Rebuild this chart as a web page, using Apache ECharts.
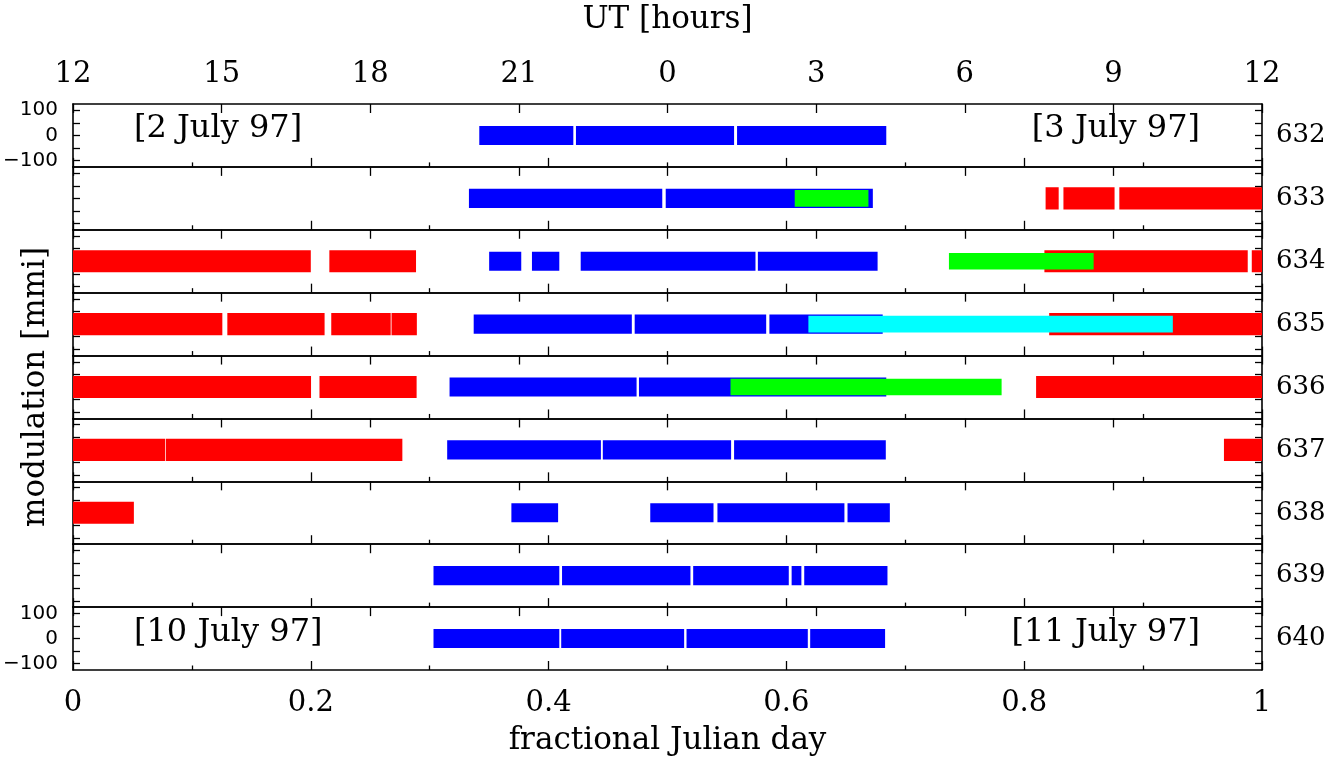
<!DOCTYPE html>
<html>
<head>
<meta charset="utf-8">
<script src="https://cdn.jsdelivr.net/npm/echarts@6/dist/echarts.min.js"></script>
<style>html,body{margin:0;padding:0;background:#fff;}#c{width:1341px;height:758px;}</style>
</head>
<body>
<div id="c"></div>
<script>
// ---- data (fractional Julian day; modulation in mmi) ----
const nights = ['632','633','634','635','636','637','638','639','640'];
const utTickLabels = ['12','15','18','21','0','3','6','9','12'];
const yTickValues = [-100, -50, 0, 50, 100];
const yLabelValues = [-100, 0, 100];
// observing runs: [panelIndex, start, end]
const blueSegments = [
  [0,0.3417,0.4208],[0,0.4230,0.5560],[0,0.5585,0.6840],
  [1,0.3330,0.4956],[1,0.4985,0.6727],
  [2,0.3500,0.3770],[2,0.3860,0.4090],[2,0.4270,0.5740],[2,0.5760,0.6767],
  [3,0.3370,0.4700],[3,0.4724,0.5830],[3,0.5857,0.6810],
  [4,0.3167,0.4740],[4,0.4760,0.6840],
  [5,0.3147,0.4440],[5,0.4456,0.5535],[5,0.5560,0.6836],
  [6,0.3687,0.4080],[6,0.4855,0.5387],[6,0.5420,0.6488],[6,0.6514,0.6870],
  [7,0.3032,0.4090],[7,0.4113,0.5193],[7,0.5216,0.6020],[7,0.6044,0.6126],[7,0.6150,0.6850],
  [8,0.3032,0.4090],[8,0.4106,0.5140],[8,0.5160,0.6180],[8,0.6200,0.6830]
];
const redSegments = [
  [1,0.8180,0.8290],[1,0.8330,0.8760],[1,0.8800,1.0000],
  [2,0.0000,0.2000],[2,0.2156,0.2885],[2,0.8170,0.9880],[2,0.9914,1.0000],
  [3,0.0000,0.1256],[3,0.1298,0.2116],[3,0.2172,0.2672],[3,0.2679,0.2892],[3,0.8210,1.0000],
  [4,0.0000,0.2002],[4,0.2073,0.2890],[4,0.8100,1.0000],
  [5,0.0000,0.0774],[5,0.0780,0.2770],[5,0.9680,1.0000],
  [6,0.0000,0.0512]
];
const greenSegments = [
  [1,0.6070,0.6690],
  [2,0.7367,0.8584],
  [4,0.5530,0.7810]
];
const cyanSegments = [
  [3,0.6185,0.9250]
];
// typical scatter half-width of each site's points (mmi)
const spreadBlue = 38, spreadRed = 44, spreadGreen = 33, spreadCyan = 33;

// ---- layout ----
const FONT = "'DejaVu Serif', serif";
const nP = nights.length;
const top0 = 104, bottom0 = 670;
const H = (bottom0 - top0) / nP;
const grids = [], xAxes = [], yAxes = [], series = [];
const axisLine = {show: true, onZero: false, lineStyle: {color: '#000', width: 1.6}};
const tickStyle = {color: '#000', width: 1.3};

for (let i = 0; i < nP; i++) {
  grids.push({left: 73, right: 79, top: top0 + i * H, height: H});
  xAxes.push({
    type: 'value', gridIndex: i, min: 0, max: 1, interval: 0.2, position: 'bottom',
    axisLine: axisLine,
    axisTick: {show: true, inside: true, length: 9, lineStyle: tickStyle},
    minorTick: {show: true, splitNumber: 2, length: 4.5, lineStyle: tickStyle},
    splitLine: {show: false},
    axisLabel: {show: i === nP - 1, margin: 19, color: '#000', fontSize: 29, fontFamily: FONT},
    name: i === nP - 1 ? 'fractional Julian day' : '',
    nameLocation: 'middle', nameGap: 55,
    nameTextStyle: {color: '#000', fontSize: 31, fontFamily: FONT}
  });
  xAxes.push({
    type: 'value', gridIndex: i, min: 0, max: 1, interval: 0.125, position: 'top',
    axisLine: axisLine,
    axisTick: {show: true, inside: true, length: 9, lineStyle: tickStyle},
    splitLine: {show: false},
    axisLabel: {show: i === 0, margin: 15, color: '#000', fontSize: 29, fontFamily: FONT,
      formatter: v => utTickLabels[Math.round(v / 0.125)]},
    name: i === 0 ? 'UT [hours]' : '',
    nameLocation: 'middle', nameGap: 69,
    nameTextStyle: {color: '#000', fontSize: 31, fontFamily: FONT}
  });
  const showY = (i === 0 || i === nP - 1);
  yAxes.push({
    type: 'value', gridIndex: i, min: -125, max: 125, position: 'left',
    axisLine: axisLine,
    axisTick: {show: true, inside: true, length: 7, lineStyle: tickStyle, customValues: yTickValues},
    splitLine: {show: false},
    axisLabel: {show: showY, customValues: yLabelValues, margin: 15, align: 'right', color: '#000', fontSize: 20,
      fontFamily: "'DejaVu Sans', sans-serif", formatter: v => String(v).replace('-', '\u2212')},
    name: i === 4 ? 'modulation [mmi]' : '',
    nameLocation: 'middle', nameRotate: 90, nameGap: 22,
    nameTextStyle: {color: '#000', fontSize: 31, fontFamily: FONT}
  });
  yAxes.push({
    type: 'value', gridIndex: i, min: -125, max: 125, position: 'right',
    axisLine: axisLine,
    axisTick: {show: true, inside: true, length: 7, lineStyle: tickStyle, customValues: yTickValues},
    splitLine: {show: false},
    axisLabel: {show: false},
    name: nights[i], nameLocation: 'middle', nameRotate: 0, nameGap: 14,
    nameTextStyle: {color: '#000', fontSize: 26, fontFamily: FONT}
  });
}

function addBands(segs, color, spread) {
  for (let i = 0; i < nP; i++) {
    const data = segs.filter(s => s[0] === i).map(s => [s[1], s[2], 0, spread]);
    if (!data.length) continue;
    series.push({
      type: 'custom', xAxisIndex: 2 * i, yAxisIndex: 2 * i, clip: true,
      encode: {x: [0, 1], y: [2]},
      data: data,
      silent: true,
      renderItem: function (params, api) {
        const c = api.value(2), h = api.value(3);
        const p1 = api.coord([api.value(0), c + h]);
        const p2 = api.coord([api.value(1), c - h]);
        return {type: 'rect',
          shape: {x: p1[0], y: p1[1], width: p2[0] - p1[0], height: p2[1] - p1[1]},
          style: {fill: color}};
      }
    });
  }
}
addBands(blueSegments, '#0000ff', spreadBlue);
addBands(redSegments, '#ff0000', spreadRed);
addBands(greenSegments, '#00ff00', spreadGreen);
addBands(cyanSegments, '#00ffff', spreadCyan);

const dateStyle = {fontSize: 32, fontFamily: FONT, fill: '#000'};
const chart = echarts.init(document.getElementById('c'), null, {renderer: 'canvas'});
chart.setOption({
  backgroundColor: '#fff',
  animation: false,
  grid: grids, xAxis: xAxes, yAxis: yAxes, series: series,
  graphic: [
    {type: 'text', left: 134, top: 113, style: Object.assign({text: '[2 July 97]'}, dateStyle)},
    {type: 'text', right: 141, top: 113, style: Object.assign({text: '[3 July 97]'}, dateStyle)},
    {type: 'text', left: 134, top: 617, style: Object.assign({text: '[10 July 97]'}, dateStyle)},
    {type: 'text', right: 141, top: 617, style: Object.assign({text: '[11 July 97]'}, dateStyle)}
  ]
});
</script>
</body>
</html>
